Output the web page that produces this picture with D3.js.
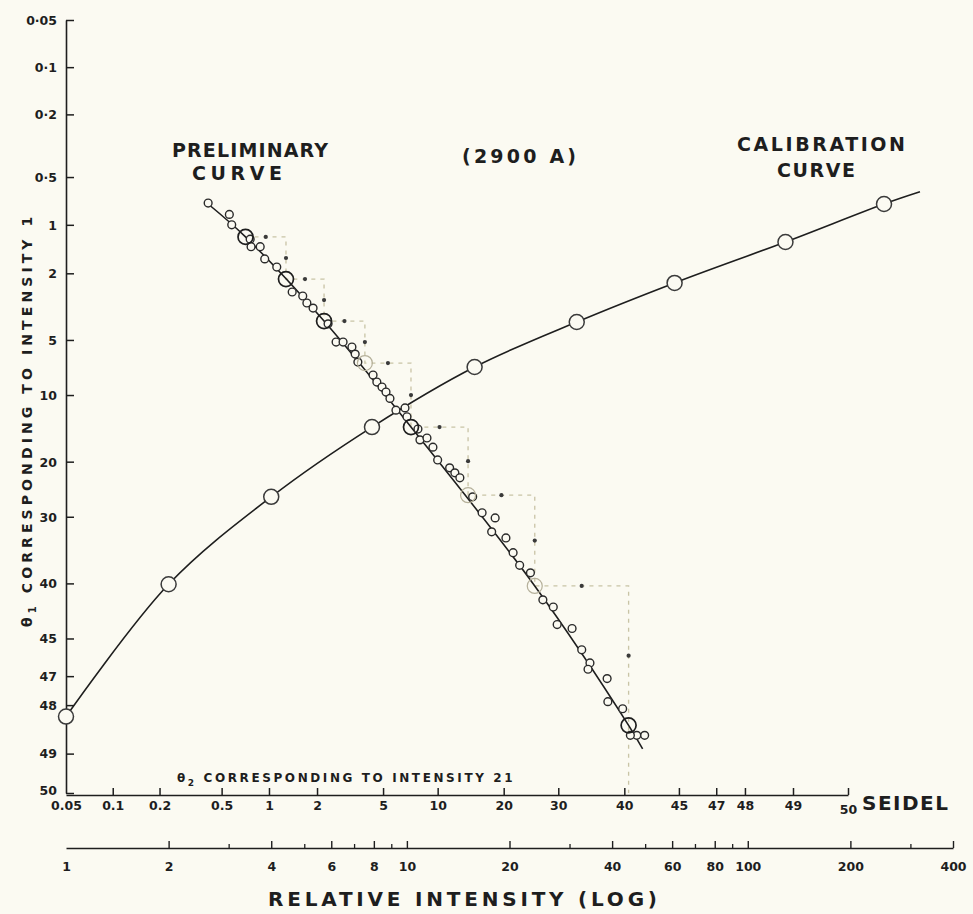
<!DOCTYPE html>
<html>
<head>
<meta charset="utf-8">
<script src="https://cdn.jsdelivr.net/npm/d3@7"></script>
<style>
  body { margin: 0; background: #fbfaf2; }
  svg text { font-family: "DejaVu Sans", sans-serif; font-weight: bold; fill: #1e1e1e; }
</style>
</head>
<body>
<div id="wrapper"></div>
<script>
// theta values (galvanometer readings, 50 = clear plate)
const seidelTicks = [0.05, 0.1, 0.2, 0.5, 1, 2, 5, 10, 20, 30, 40, 45, 47, 48, 49, 50]
const yTickLabels = ["0·05", "0·1", "0·2", "0·5", "1", "2", "5", "10", "20", "30", "40", "45", "47", "48", "49", "50"]
const xTickLabels = ["0.05", "0.1", "0.2", "0.5", "1", "2", "5", "10", "20", "30", "40", "45", "47", "48", "49", "50"]
const logMajorTicks = [1, 2, 4, 6, 8, 10, 20, 40, 60, 80, 100, 200, 400]
const logMinorTicks = [3, 5, 7, 9, 30, 50, 70, 90, 300]

// preliminary curve: theta2 (x) against theta1 (y)
const prelimTheta2 = [0.41, 0.56, 0.58, 0.76, 0.77, 0.88, 0.94, 1.12, 1.40, 1.63,
  1.73, 1.89, 2.34, 2.62, 2.89, 3.27, 3.42, 3.55, 4.37, 4.60,
  4.93, 5.20, 5.48, 5.93, 6.67, 6.84, 7.86, 8.06, 8.79, 9.45,
  10.0, 11.5, 12.2, 12.9, 14.8, 16.3, 18.5, 17.9, 20.4, 21.7,
  22.9, 24.9, 27.2, 29.1, 29.8, 32.4, 34.0, 35.3, 35.0, 37.8,
  37.9, 39.8, 41.4, 40.7, 42.2]
const prelimTheta1 = [0.73, 0.86, 1.00, 1.23, 1.37, 1.37, 1.63, 1.83, 2.60, 2.75,
  3.03, 3.25, 4.03, 5.14, 5.14, 5.49, 6.02, 6.67, 7.85, 8.56,
  9.09, 9.65, 10.4, 11.9, 11.6, 12.8, 14.6, 16.3, 16.0, 17.5,
  19.7, 21.1, 22.0, 22.9, 26.4, 29.3, 30.2, 32.6, 33.6, 35.9,
  37.7, 38.7, 41.8, 42.5, 44.0, 44.3, 45.7, 46.4, 46.7, 47.1,
  47.9, 48.1, 48.7, 48.7, 48.7]
// the drawn (smoothed) preliminary curve
const prelimLineTheta2 = [0.41, 0.71, 2.21, 7.2, 25.7, 40.5, 42.0]
const prelimLineTheta1 = [0.74, 1.19, 3.88, 14.3, 40.3, 48.5, 48.93]

// step construction points (large circles)
const stepTheta2 = [0.71, 1.28, 2.21, 3.91, 7.20, 14.1, 25.7, 40.5]
const stepTheta1 = [1.19, 2.17, 3.88, 6.75, 14.3, 26.1, 40.3, 48.5]
const stepFaint = [false, false, false, true, false, true, true, false]

// calibration curve: relative intensity against theta
const calIntensity = [1, 2, 4, 7.9, 15.8, 31.5, 61, 129, 251]
const calTheta = [48.3, 40.1, 26.4, 14.3, 7.1, 3.93, 2.29, 1.28, 0.74]
const calEndIntensity = 320
const calEndTheta = 0.62

function drawChart() {

  const width = 973
  const height = 914
  const bg = "#fbfaf2"
  const ink = "#1e1e1e"

  const seidel = t => Math.log10(50 / t - 1)

  const svg = d3.select("#wrapper")
    .append("svg")
      .attr("width", width)
      .attr("height", height)

  svg.append("rect")
    .attr("width", width)
    .attr("height", height)
    .attr("fill", bg)

  // scales
  const xScale = d3.scaleLinear()
    .domain([seidel(0.05), -2.045])
    .range([66, 848])
    .clamp(true)

  const yScale = d3.scaleLinear()
    .domain([seidel(0.05), -1.942])
    .range([20, 793])
    .clamp(true)

  const logScale = d3.scaleLog()
    .domain([1, 400])
    .range([66, 953])

  const sx = t => xScale(seidel(t))
  const sy = t => yScale(seidel(t))

  // y axis (seidel)
  const yAxis = svg.append("g")
    .attr("transform", "translate(66,0)")
    .call(d3.axisLeft(yScale)
      .tickValues(seidelTicks.map(seidel))
      .tickFormat((d, i) => yTickLabels[i])
      .tickSizeInner(-8)
      .tickSizeOuter(0)
      .tickPadding(9))
  yAxis.select(".domain").attr("stroke", ink).attr("stroke-width", 1.6)
  yAxis.selectAll(".tick line").attr("stroke", ink).attr("stroke-width", 1.5)
  yAxis.selectAll(".tick text")
    .style("font-size", "12.5px")
    .attr("fill", ink)
    .attr("dy", (d, i) => i == seidelTicks.length - 1 ? "0.1em" : "0.35em")

  // x axis (seidel)
  const xAxis = svg.append("g")
    .attr("transform", "translate(0,795)")
    .call(d3.axisBottom(xScale)
      .tickValues(seidelTicks.map(seidel))
      .tickFormat((d, i) => xTickLabels[i])
      .tickSizeInner(-7)
      .tickSizeOuter(0)
      .tickPadding(6))
  xAxis.select(".domain").attr("stroke", ink).attr("stroke-width", 1.6)
  xAxis.selectAll(".tick line").attr("stroke", ink).attr("stroke-width", 1.5)
    .attr("opacity", (d, i) => i == 0 ? 0 : 1)
  xAxis.selectAll(".tick text")
    .style("font-size", "12.5px")
    .attr("fill", ink)
    .attr("dy", (d, i) => i == seidelTicks.length - 1 ? "1.05em" : "0.71em")

  // log intensity axis
  const logAxis = svg.append("g")
    .attr("transform", "translate(0,848)")
    .call(d3.axisBottom(logScale)
      .tickValues(logMajorTicks)
      .tickFormat(d3.format("d"))
      .tickSizeInner(-7)
      .tickSizeOuter(0)
      .tickPadding(14))
  logAxis.select(".domain").attr("stroke", ink).attr("stroke-width", 1.4)
  logAxis.selectAll(".tick line").attr("stroke", ink).attr("stroke-width", 1.4)
    .attr("opacity", d => d == 1 ? 0 : 1)
  logAxis.selectAll(".tick text")
    .style("font-size", "12.5px")
    .attr("fill", ink)

  const logMinor = svg.append("g")
    .attr("transform", "translate(0,848)")
    .call(d3.axisBottom(logScale)
      .tickValues(logMinorTicks)
      .tickFormat("")
      .tickSizeInner(-4)
      .tickSizeOuter(0))
  logMinor.select(".domain").remove()
  logMinor.selectAll(".tick line").attr("stroke", ink).attr("stroke-width", 1.3)

  // axis titles
  svg.append("text")
    .attr("transform", "translate(32,627) rotate(-90)")
    .style("font-size", "14px")
    .style("letter-spacing", "4.1px")
    .text("θ")
    .append("tspan")
      .attr("dy", 4)
      .style("font-size", "10px")
      .text("1")
    .clone()
      .attr("dy", -4)
      .style("font-size", "14px")
      .text(" CORRESPONDING TO INTENSITY 1")

  svg.append("text")
    .attr("x", 177)
    .attr("y", 782)
    .style("font-size", "12px")
    .style("letter-spacing", "2.6px")
    .text("θ")
    .append("tspan")
      .attr("dy", 4)
      .style("font-size", "9px")
      .text("2")
    .clone()
      .attr("dy", -4)
      .style("font-size", "12px")
      .text(" CORRESPONDING TO INTENSITY 21")

  svg.append("text")
    .attr("x", 862)
    .attr("y", 810)
    .attr("textLength", 86)
    .style("font-size", "20px")
    .text("SEIDEL")

  svg.append("text")
    .attr("x", 268)
    .attr("y", 906)
    .attr("textLength", 389)
    .style("font-size", "20px")
    .text("RELATIVE INTENSITY (LOG)")

  // annotations
  const notes = [
    { t: "PRELIMINARY", x: 250, y: 157, w: 156 },
    { t: "CURVE", x: 237, y: 180, w: 90 },
    { t: "(2900 A)", x: 519, y: 163, w: 114 },
    { t: "CALIBRATION", x: 821, y: 151, w: 168 },
    { t: "CURVE", x: 816, y: 177, w: 78 },
  ]
  svg.append("g")
    .selectAll("text")
    .data(notes)
    .join("text")
      .attr("x", d => d.x - d.w / 2)
      .attr("y", d => d.y)
      .attr("textLength", d => d.w)
      .style("font-size", "19px")
      .text(d => d.t)

  // step construction (dashed staircase)
  const stairs = []
  stepTheta2.forEach((t2, i) => {
    if (i == 0) stairs.push([t2, stepTheta1[i]])
    else {
      stairs.push([t2, stepTheta1[i - 1]])
      stairs.push([t2, stepTheta1[i]])
    }
  })
  stairs.push([stepTheta2[stepTheta2.length - 1], 50])

  svg.append("path")
    .attr("d", d3.line().x(d => sx(d[0])).y(d => sy(d[1]))(stairs))
    .attr("fill", "none")
    .attr("stroke", "#b3ad86")
    .attr("stroke-width", 1.3)
    .attr("stroke-opacity", 0.7)
    .attr("stroke-dasharray", "4,5")

  const midDots = []
  for (let i = 1; i < stepTheta2.length; i++) {
    const corner = [stepTheta2[i], stepTheta1[i - 1]]
    midDots.push([(sx(stepTheta2[i - 1]) + sx(corner[0])) / 2, sy(corner[1])])
    midDots.push([sx(corner[0]), (sy(corner[1]) + sy(stepTheta1[i])) / 2])
  }
  svg.append("g")
    .selectAll("circle")
    .data(midDots)
    .join("circle")
      .attr("cx", d => d[0])
      .attr("cy", d => d[1])
      .attr("r", 2.1)
      .attr("fill", "#3a3a3a")

  // calibration curve
  const calPoints = calIntensity.map((d, i) => [d, calTheta[i]])
  const calLine = d3.line()
    .curve(d3.curveCatmullRom)
    .x(d => logScale(d[0]))
    .y(d => sy(d[1]))
  svg.append("path")
    .attr("d", calLine([...calPoints, [calEndIntensity, calEndTheta]]))
    .attr("fill", "none")
    .attr("stroke", ink)
    .attr("stroke-width", 1.6)

  // preliminary curve
  const prelimLine = d3.line()
    .curve(d3.curveCatmullRom)
    .x(d => sx(d[0]))
    .y(d => sy(d[1]))
  svg.append("path")
    .attr("d", prelimLine(prelimLineTheta2.map((d, i) => [d, prelimLineTheta1[i]])))
    .attr("fill", "none")
    .attr("stroke", ink)
    .attr("stroke-width", 1.6)

  svg.append("g")
    .selectAll("circle")
    .data(prelimTheta2.map((d, i) => [d, prelimTheta1[i]]))
    .join("circle")
      .attr("cx", d => sx(d[0]))
      .attr("cy", d => sy(d[1]))
      .attr("r", 3.9)
      .attr("fill", bg)
      .attr("stroke", "#2a2a2a")
      .attr("stroke-width", 1.4)

  svg.append("g")
    .selectAll("circle")
    .data(stepTheta2.map((d, i) => [d, stepTheta1[i], stepFaint[i]]))
    .join("circle")
      .attr("cx", d => sx(d[0]))
      .attr("cy", d => sy(d[1]))
      .attr("r", 7.5)
      .attr("fill", "none")
      .attr("stroke", d => d[2] ? "#b5b09a" : "#1e1e1e")
      .attr("stroke-width", d => d[2] ? 1.2 : 1.7)

  svg.append("g")
    .selectAll("circle")
    .data(calPoints)
    .join("circle")
      .attr("cx", d => logScale(d[0]))
      .attr("cy", d => sy(d[1]))
      .attr("r", 7.5)
      .attr("fill", bg)
      .attr("stroke", "#3a3a3a")
      .attr("stroke-width", 1.5)
}
drawChart()
</script>
</body>
</html>
